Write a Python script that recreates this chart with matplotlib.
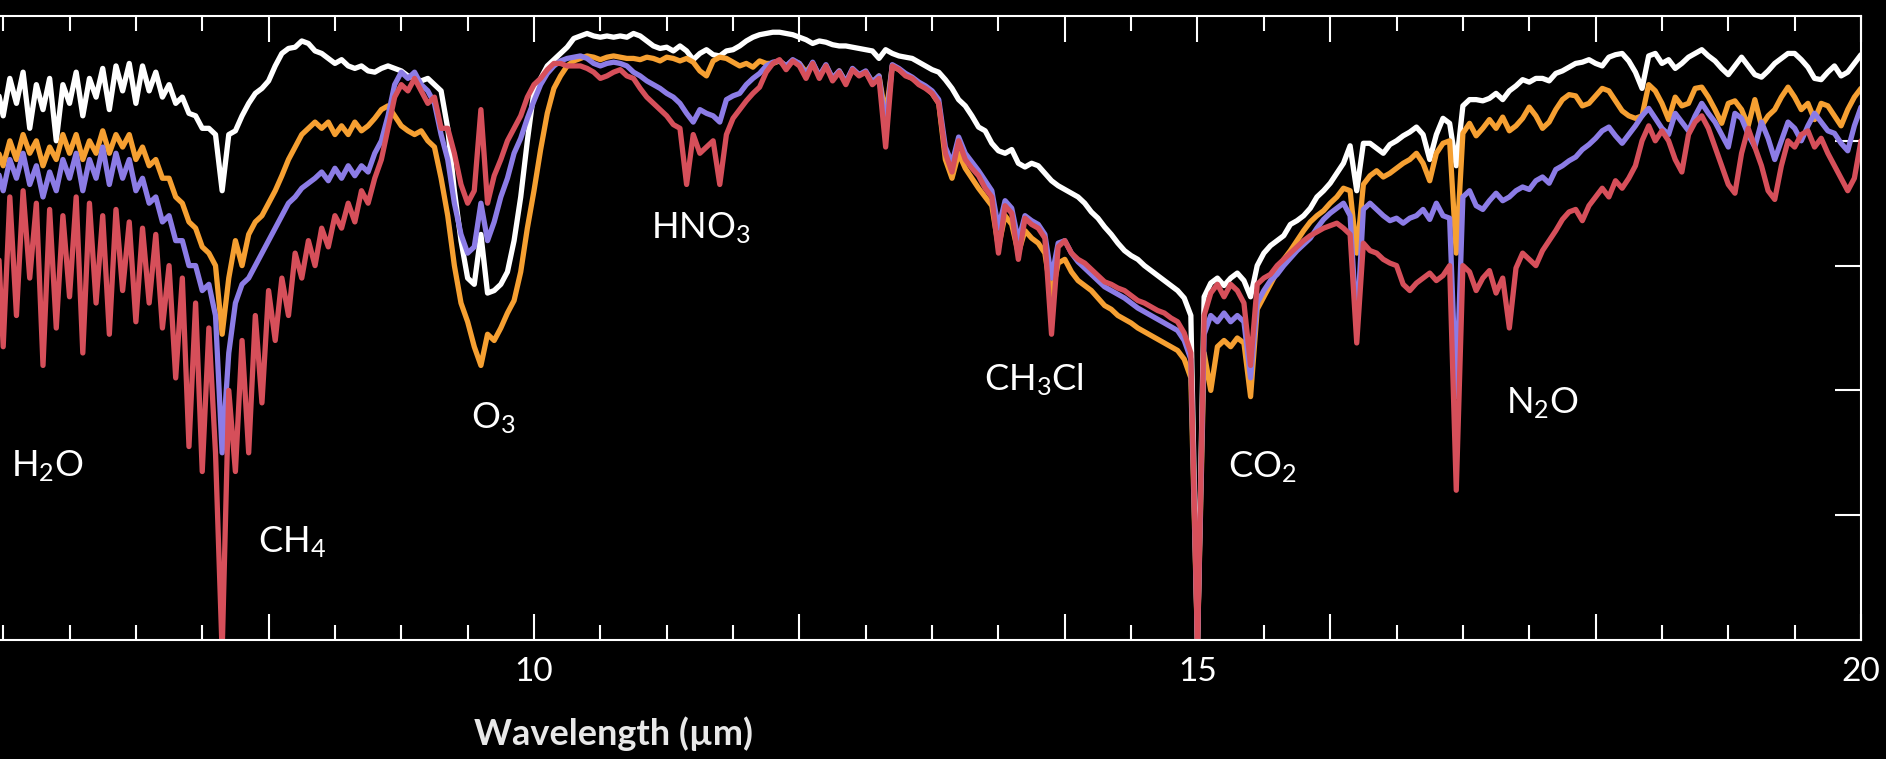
import matplotlib
matplotlib.use("Agg")
import matplotlib.pyplot as plt
from matplotlib.ticker import FixedLocator, FixedFormatter, MultipleLocator

# ---------------- data ----------------
wavelength = [
    5.95,
    6.00, 6.05, 6.10, 6.15, 6.20, 6.25, 6.30, 6.35, 6.40, 6.45, 6.50, 6.55, 6.60, 6.65, 6.70, 6.75, 6.80, 6.85, 6.90, 6.95,
    7.00, 7.05, 7.10, 7.15, 7.20, 7.25, 7.30, 7.35, 7.40, 7.45, 7.50, 7.55, 7.60, 7.65, 7.70, 7.75, 7.80, 7.85, 7.90, 7.95,
    8.00, 8.05, 8.10, 8.15, 8.20, 8.25, 8.30, 8.35, 8.40, 8.45, 8.50, 8.55, 8.60, 8.65, 8.70, 8.75, 8.80, 8.85, 8.90, 8.95,
    9.00, 9.05, 9.10, 9.15, 9.20, 9.25, 9.30, 9.35, 9.40, 9.45, 9.50, 9.55, 9.60, 9.65, 9.70, 9.75, 9.80, 9.85, 9.90, 9.95,
    10.00, 10.05, 10.10, 10.15, 10.20, 10.25, 10.30, 10.35, 10.40, 10.45, 10.50, 10.55, 10.60, 10.65, 10.70, 10.75, 10.80, 10.85, 10.90, 10.95,
    11.00, 11.05, 11.10, 11.15, 11.20, 11.25, 11.30, 11.35, 11.40, 11.45, 11.50, 11.55, 11.60, 11.65, 11.70, 11.75, 11.80, 11.85, 11.90, 11.95,
    12.00, 12.05, 12.10, 12.15, 12.20, 12.25, 12.30, 12.35, 12.40, 12.45, 12.50, 12.55, 12.60, 12.65, 12.70, 12.75, 12.80, 12.85, 12.90, 12.95,
    13.00, 13.05, 13.10, 13.15, 13.20, 13.25, 13.30, 13.35, 13.40, 13.45, 13.50, 13.55, 13.60, 13.65, 13.70, 13.75, 13.80, 13.85, 13.90, 13.95,
    14.00, 14.05, 14.10, 14.15, 14.20, 14.25, 14.30, 14.35, 14.40, 14.45, 14.50, 14.55, 14.60, 14.65, 14.70, 14.75, 14.80, 14.85, 14.90, 14.95,
    15.00, 15.05, 15.10, 15.15, 15.20, 15.25, 15.30, 15.35, 15.40, 15.45, 15.50, 15.55, 15.60, 15.65, 15.70, 15.75, 15.80, 15.85, 15.90, 15.95,
    16.00, 16.05, 16.10, 16.15, 16.20, 16.25, 16.30, 16.35, 16.40, 16.45, 16.50, 16.55, 16.60, 16.65, 16.70, 16.75, 16.80, 16.85, 16.90, 16.95,
    17.00, 17.05, 17.10, 17.15, 17.20, 17.25, 17.30, 17.35, 17.40, 17.45, 17.50, 17.55, 17.60, 17.65, 17.70, 17.75, 17.80, 17.85, 17.90, 17.95,
    18.00, 18.05, 18.10, 18.15, 18.20, 18.25, 18.30, 18.35, 18.40, 18.45, 18.50, 18.55, 18.60, 18.65, 18.70, 18.75, 18.80, 18.85, 18.90, 18.95,
    19.00, 19.05, 19.10, 19.15, 19.20, 19.25, 19.30, 19.35, 19.40, 19.45, 19.50, 19.55, 19.60, 19.65, 19.70, 19.75, 19.80, 19.85, 19.90, 19.95,
    20.00,
]

spectrum_white = [
    4.45,
    4.2, 4.5, 4.3, 4.55, 4.1, 4.45, 4.25, 4.5, 4.0, 4.45, 4.3, 4.55, 4.2, 4.5, 4.35, 4.58, 4.25, 4.6, 4.4, 4.62,
    4.3, 4.6, 4.4, 4.55, 4.35, 4.45, 4.3, 4.35, 4.22, 4.2, 4.1, 4.1, 4.05, 3.6, 4.05, 4.08, 4.2, 4.3, 4.38, 4.42,
    4.48, 4.6, 4.7, 4.74, 4.75, 4.8, 4.78, 4.72, 4.7, 4.66, 4.62, 4.65, 4.6, 4.58, 4.6, 4.56, 4.55, 4.58, 4.6, 4.58,
    4.56, 4.52, 4.5, 4.48, 4.5, 4.45, 4.4, 4.1, 3.6, 3.2, 2.9, 2.85, 3.25, 2.78, 2.8, 2.85, 2.95, 3.2, 3.55, 4.0,
    4.4, 4.5, 4.6, 4.65, 4.7, 4.75, 4.82, 4.84, 4.86, 4.84, 4.83, 4.84, 4.83, 4.84, 4.83, 4.86, 4.84, 4.8, 4.76, 4.74,
    4.75, 4.72, 4.76, 4.72, 4.65, 4.7, 4.73, 4.69, 4.68, 4.72, 4.73, 4.76, 4.8, 4.83, 4.85, 4.86, 4.87, 4.87, 4.86, 4.85,
    4.83, 4.81, 4.78, 4.8, 4.79, 4.77, 4.76, 4.76, 4.75, 4.74, 4.73, 4.72, 4.66, 4.73, 4.7, 4.68, 4.67, 4.66, 4.63, 4.6,
    4.57, 4.55, 4.49, 4.42, 4.33, 4.28, 4.2, 4.11, 4.08, 3.98, 3.92, 3.9, 3.93, 3.82, 3.79, 3.82, 3.8, 3.74, 3.68, 3.64,
    3.61, 3.58, 3.55, 3.5, 3.43, 3.38, 3.31, 3.25, 3.18, 3.12, 3.08, 3.05, 3.0, 2.96, 2.92, 2.88, 2.84, 2.8, 2.74, 2.6,
    -0.05, 2.75, 2.86, 2.9, 2.84, 2.9, 2.94, 2.88, 2.75, 3.0, 3.1, 3.16, 3.2, 3.24, 3.33, 3.36, 3.4, 3.46, 3.55, 3.6,
    3.66, 3.74, 3.82, 3.96, 3.6, 3.98, 3.98, 3.94, 3.9, 3.97, 4.0, 4.04, 4.07, 4.11, 4.05, 3.85, 4.05, 4.18, 4.14, 3.8,
    4.28, 4.33, 4.33, 4.32, 4.34, 4.38, 4.33, 4.4, 4.44, 4.49, 4.47, 4.5, 4.5, 4.48, 4.54, 4.56, 4.59, 4.62, 4.63, 4.65,
    4.62, 4.6, 4.67, 4.69, 4.7, 4.64, 4.55, 4.42, 4.68, 4.7, 4.62, 4.65, 4.58, 4.62, 4.67, 4.7, 4.73, 4.68, 4.64, 4.58,
    4.53, 4.6, 4.67, 4.6, 4.53, 4.51, 4.56, 4.62, 4.66, 4.7, 4.7, 4.65, 4.59, 4.5, 4.49, 4.55, 4.6, 4.52, 4.55, 4.62,
    4.69,
]

spectrum_orange = [
    3.95,
    3.8, 4.0, 3.85, 4.05, 3.9, 4.0, 3.8, 3.95, 3.85, 4.05, 3.9, 4.05, 3.85, 4.0, 3.9, 4.08, 3.9, 4.05, 3.95, 4.05,
    3.85, 3.95, 3.8, 3.85, 3.7, 3.7, 3.55, 3.5, 3.35, 3.3, 3.15, 3.1, 3.0, 2.45, 2.9, 3.2, 3.0, 3.25, 3.35, 3.4,
    3.5, 3.6, 3.72, 3.85, 3.95, 4.05, 4.1, 4.15, 4.1, 4.15, 4.05, 4.12, 4.05, 4.15, 4.08, 4.12, 4.18, 4.25, 4.28, 4.2,
    4.12, 4.08, 4.05, 4.08, 4.0, 3.95, 3.7, 3.4, 3.0, 2.7, 2.55, 2.35, 2.2, 2.45, 2.4, 2.5, 2.62, 2.72, 2.95, 3.3,
    3.6, 3.93, 4.22, 4.42, 4.52, 4.6, 4.64, 4.66, 4.68, 4.67, 4.65, 4.67, 4.68, 4.67, 4.66, 4.66, 4.65, 4.67, 4.66, 4.64,
    4.67, 4.66, 4.64, 4.66, 4.63, 4.56, 4.52, 4.64, 4.67, 4.66, 4.63, 4.6, 4.62, 4.59, 4.64, 4.62, 4.62, 4.64, 4.6, 4.64,
    4.62, 4.55, 4.62, 4.52, 4.6, 4.5, 4.56, 4.47, 4.57, 4.53, 4.55, 4.47, 4.52, 4.2, 4.6, 4.57, 4.53, 4.5, 4.46, 4.43,
    4.38, 4.3, 3.85, 3.7, 3.9, 3.78, 3.7, 3.62, 3.55, 3.48, 3.15, 3.4, 3.33, 3.1, 3.28, 3.22, 3.18, 3.1, 2.75, 3.02,
    3.05, 2.95, 2.88, 2.84, 2.8, 2.74, 2.68, 2.65, 2.6, 2.57, 2.54, 2.5, 2.47, 2.44, 2.41, 2.38, 2.35, 2.32, 2.25, 2.1,
    -0.05, 2.3, 2.0, 2.35, 2.4, 2.35, 2.42, 2.38, 1.95, 2.65, 2.75, 2.85, 2.95, 3.05, 3.12, 3.2, 3.28, 3.35, 3.4, 3.44,
    3.5, 3.55, 3.62, 3.6, 3.1, 3.65, 3.72, 3.76, 3.71, 3.74, 3.78, 3.82, 3.85, 3.9, 3.82, 3.68, 3.9, 3.98, 4.0, 3.1,
    4.06, 4.14, 4.04, 4.1, 4.17, 4.1, 4.19, 4.08, 4.12, 4.18, 4.27, 4.2, 4.1, 4.15, 4.25, 4.33, 4.37, 4.36, 4.28, 4.3,
    4.36, 4.42, 4.4, 4.32, 4.24, 4.2, 4.18, 4.2, 4.45, 4.4, 4.3, 4.17, 4.35, 4.28, 4.3, 4.42, 4.43, 4.35, 4.25, 4.14,
    4.3, 4.32, 4.25, 4.12, 4.33, 4.12, 4.2, 4.25, 4.35, 4.43, 4.35, 4.25, 4.3, 4.17, 4.3, 4.28, 4.2, 4.12, 4.25, 4.35,
    4.42,
]

spectrum_purple = [
    3.8,
    3.6, 3.85, 3.7, 3.9, 3.65, 3.8, 3.55, 3.75, 3.6, 3.85, 3.7, 3.9, 3.6, 3.85, 3.7, 3.95, 3.65, 3.9, 3.7, 3.85,
    3.6, 3.7, 3.5, 3.55, 3.35, 3.4, 3.2, 3.2, 3.0, 3.0, 2.8, 2.85, 2.6, 1.5, 2.3, 2.7, 2.85, 2.9, 3.0, 3.1,
    3.2, 3.3, 3.4, 3.5, 3.55, 3.62, 3.66, 3.7, 3.75, 3.68, 3.78, 3.7, 3.8, 3.72, 3.8, 3.75, 3.9, 4.0, 4.2, 4.45,
    4.55, 4.5, 4.55, 4.45, 4.4, 4.3, 4.05, 3.85, 3.5, 3.25, 3.1, 3.15, 3.5, 3.2, 3.35, 3.55, 3.7, 3.9, 4.02, 4.18,
    4.32, 4.45, 4.54, 4.6, 4.64, 4.66, 4.67, 4.68, 4.66, 4.62, 4.6, 4.62, 4.63, 4.62, 4.6, 4.55, 4.52, 4.48, 4.45, 4.42,
    4.38, 4.35, 4.3, 4.22, 4.15, 4.25, 4.22, 4.2, 4.15, 4.33, 4.36, 4.38, 4.45, 4.5, 4.54, 4.6, 4.63, 4.64, 4.6, 4.65,
    4.62, 4.53, 4.63, 4.52, 4.61, 4.5, 4.56, 4.47, 4.58, 4.53, 4.56, 4.47, 4.52, 4.1, 4.61, 4.58, 4.54, 4.51, 4.47, 4.44,
    4.4, 4.33, 3.95, 3.82, 4.03, 3.9, 3.83, 3.76, 3.68, 3.6, 3.3, 3.52, 3.46, 3.2, 3.4, 3.36, 3.33, 3.25, 2.9, 3.18,
    3.2, 3.1, 3.03, 2.98, 2.93, 2.88, 2.83, 2.8, 2.77, 2.74, 2.7, 2.66, 2.63, 2.6, 2.57, 2.54, 2.51, 2.48, 2.4, 2.25,
    -0.05, 2.45, 2.6, 2.55, 2.62, 2.55, 2.6, 2.55, 2.1, 2.7, 2.8, 2.88, 2.93, 3.0, 3.06, 3.12, 3.17, 3.22, 3.3, 3.37,
    3.42, 3.46, 3.5, 3.4, 2.5, 3.45, 3.5, 3.45, 3.4, 3.36, 3.38, 3.34, 3.38, 3.4, 3.45, 3.37, 3.5, 3.4, 3.38, 1.95,
    3.55, 3.6, 3.48, 3.45, 3.52, 3.58, 3.52, 3.55, 3.6, 3.63, 3.61, 3.68, 3.71, 3.66, 3.77, 3.8, 3.84, 3.87, 3.93, 3.97,
    4.02, 4.08, 4.11, 4.04, 3.98, 4.05, 4.12, 4.2, 4.26, 4.18, 4.1, 4.05, 4.22, 4.15, 4.08, 4.2, 4.3, 4.22, 4.15, 4.05,
    3.95, 4.22, 4.18, 4.05, 3.95, 4.15, 4.02, 3.85, 4.0, 4.15, 4.1, 4.0, 4.12, 4.22, 4.15, 4.08, 4.06, 3.98, 3.92, 4.12,
    4.27,
]

spectrum_red = [
    3.45,
    2.35, 3.55, 2.6, 3.6, 2.9, 3.5, 2.2, 3.45, 2.5, 3.4, 2.75, 3.55, 2.3, 3.5, 2.7, 3.4, 2.45, 3.45, 2.8, 3.35,
    2.55, 3.3, 2.7, 3.25, 2.5, 3.0, 2.1, 2.9, 1.55, 2.7, 1.35, 2.5, 1.5, -0.1, 2.0, 1.35, 2.4, 1.5, 2.6, 1.9,
    2.8, 2.4, 2.9, 2.6, 3.1, 2.9, 3.2, 3.0, 3.3, 3.15, 3.4, 3.3, 3.5, 3.35, 3.6, 3.5, 3.7, 3.85, 4.1, 4.35,
    4.45, 4.4, 4.5, 4.4, 4.3, 4.35, 4.1, 4.1, 3.9, 3.65, 3.5, 3.6, 4.25, 3.5, 3.72, 3.85, 4.0, 4.1, 4.2, 4.35,
    4.45, 4.5, 4.57, 4.62, 4.62, 4.6, 4.6, 4.6, 4.58, 4.55, 4.5, 4.52, 4.55, 4.57, 4.52, 4.5, 4.42, 4.35, 4.3, 4.25,
    4.2, 4.13, 4.1, 3.65, 4.05, 3.9, 3.95, 4.0, 3.65, 4.05, 4.18, 4.25, 4.32, 4.38, 4.43, 4.55, 4.62, 4.65, 4.57, 4.64,
    4.6, 4.5, 4.62, 4.5, 4.6, 4.48, 4.55, 4.45, 4.57, 4.52, 4.55, 4.45, 4.5, 3.95, 4.6, 4.57, 4.52, 4.5, 4.45, 4.42,
    4.38, 4.3, 3.9, 3.75, 4.0, 3.85, 3.78, 3.72, 3.62, 3.55, 3.1, 3.48, 3.42, 3.05, 3.38, 3.33, 3.3, 3.22, 2.45, 3.15,
    3.2, 3.1, 3.05, 3.02, 2.97, 2.92, 2.87, 2.85, 2.82, 2.8, 2.76, 2.72, 2.7, 2.67, 2.64, 2.62, 2.58, 2.55, 2.46, 2.3,
    -0.05, 2.6, 2.78, 2.85, 2.75, 2.85, 2.8, 2.7, 2.2, 2.85, 2.9, 2.93, 3.0, 3.05, 3.1, 3.15, 3.2, 3.24, 3.27, 3.3,
    3.32, 3.34, 3.3, 3.25, 2.38, 3.18, 3.12, 3.1, 3.05, 3.02, 3.0, 2.85, 2.8, 2.86, 2.9, 2.94, 2.88, 2.92, 3.0, 1.2,
    3.0, 2.95, 2.8, 2.9, 2.96, 2.78, 2.9, 2.5, 2.98, 3.1, 3.05, 3.0, 3.12, 3.2, 3.28, 3.37, 3.43, 3.45, 3.36, 3.48,
    3.55, 3.62, 3.55, 3.68, 3.62, 3.7, 3.8, 4.0, 4.12, 4.0, 4.08, 4.0, 3.85, 3.75, 4.05, 4.15, 4.2, 4.1, 3.95, 3.8,
    3.65, 3.58, 3.9, 4.1, 3.95, 3.8, 3.6, 3.53, 3.8, 4.0, 3.95, 4.05, 4.08, 3.95, 4.02, 3.9, 3.8, 3.7, 3.6, 3.7,
    4.0,
]

series_colors = ["#ffffff", "#f6a032", "#8c7ce6", "#d64f5a"]

molecule_labels = ["H$_2$O", "CH$_4$", "O$_3$", "HNO$_3$", "CH$_3$Cl", "CO$_2$", "N$_2$O"]
molecule_x = [6.06, 7.92, 9.525, 10.88, 13.39, 15.23, 17.325]
molecule_y = [1.31, 0.70, 1.70, 3.22, 2.00, 1.30, 1.82]

x_major_ticks = [8, 10, 12, 14, 15, 16, 18, 20]
x_major_labels = ["", "10", "", "", "15", "", "", "20"]
y_ticks = [1, 2, 3, 4]

for s in (spectrum_white, spectrum_orange, spectrum_purple, spectrum_red):
    assert len(s) == len(wavelength), (len(s), len(wavelength))

# ---------------- figure ----------------
plt.rcParams["font.family"] = ["Lato", "DejaVu Sans"]
plt.rcParams["mathtext.default"] = "regular"

W, H = 1886, 759
fig = plt.figure(figsize=(W / 100, H / 100), dpi=100, facecolor="black")
ax = fig.add_axes([0.0, (H - 640) / H, 1861 / W, 624 / H])
ax.set_facecolor("black")

for vals, col in zip((spectrum_white, spectrum_orange, spectrum_purple, spectrum_red), series_colors):
    ax.plot(wavelength, vals, color=col, lw=3.8, solid_joinstyle="round", solid_capstyle="round")

ax.set_xlim(5.976, 20)
ax.set_ylim(0, 5)

ax.spines["left"].set_visible(False)
for side in ("top", "bottom", "right"):
    ax.spines[side].set_color("white")
    ax.spines[side].set_linewidth(1.5)

ax.xaxis.set_major_locator(FixedLocator(x_major_ticks))
ax.xaxis.set_major_formatter(FixedFormatter(x_major_labels))
ax.xaxis.set_minor_locator(MultipleLocator(0.5))
ax.tick_params(axis="x", which="major", direction="in", length=19, width=1.5, color="white",
               top=True, bottom=True, labelcolor="white", labelsize=24, pad=12)
ax.tick_params(axis="x", which="minor", direction="in", length=11, width=1.5, color="white",
               top=True, bottom=True)
ax.yaxis.set_major_locator(FixedLocator(y_ticks))
ax.tick_params(axis="y", which="major", direction="in", length=19, width=1.5, color="white",
               left=False, right=True, labelleft=False, labelright=False)

# the 15 tick mark is hidden beneath the CO2 line in the original
for t in ax.xaxis.get_major_ticks():
    if abs(t.get_loc() - 15) < 1e-6:
        t.tick1line.set_visible(False)
        t.tick2line.set_visible(False)

for txt, x, y in zip(molecule_labels, molecule_x, molecule_y):
    ax.text(x, y, txt, color="white", fontsize=26, fontweight="normal", ha="left", va="baseline")

fig.text(613 / W, 1 - 734 / H, "Wavelength (µm)", color="#e8e8e8", ha="center", va="center",
         fontsize=26, fontweight="bold", family=["Liberation Sans Narrow", "Lato", "DejaVu Sans"])

fig.savefig("out.png", dpi=100, facecolor="black")
